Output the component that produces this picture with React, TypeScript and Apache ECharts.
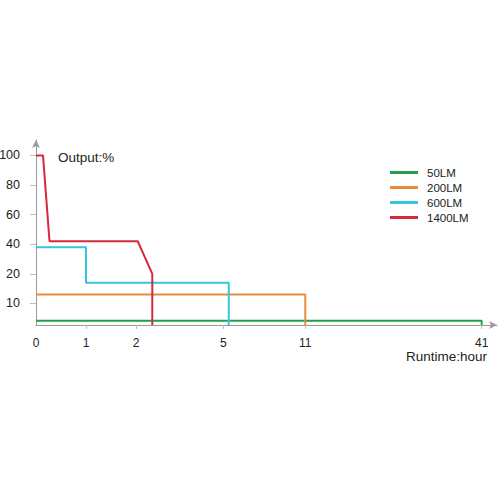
import React, { useEffect, useRef } from "react";
import * as echarts from "echarts";

// Piecewise axis scales (value -> axis position), as drawn in the illustration
const hourTicks = [0, 1, 2, 5, 11, 41];
const hourScale = [0, 1, 2, 3.746, 5.386, 8.914];
const pctTicks = [0, 10, 20, 40, 60, 80, 100];
const pctScale = [0, 0.73, 1.73, 2.73, 3.73, 4.73, 5.73];

const seriesNames = ["50LM", "200LM", "600LM", "1400LM"];
const seriesColors = ["#1fa04a", "#ec8a3c", "#35c5e3", "#d42a3c"];

// [hour, output %]
const lm50 = [[0, 2], [41, 2], [41, 0]];
const lm200 = [[0, 13], [11, 13], [11, 0]];
const lm600 = [[0, 38], [1, 38], [1, 17], [5.4, 17], [5.4, 0]];
const lm1400 = [[0, 100], [0.14, 100], [0.27, 42], [2.06, 42], [2.56, 20], [2.56, 0]];

const interp = (v: number, from: number[], to: number[]) => {
  for (let i = 0; i < from.length - 1; i++) {
    if (v <= from[i + 1]) {
      const t = (v - from[i]) / (from[i + 1] - from[i]);
      return to[i] + t * (to[i + 1] - to[i]);
    }
  }
  return to[to.length - 1];
};

const mapPoint = (p: number[]) => [interp(p[0], hourTicks, hourScale), interp(p[1], pctTicks, pctScale)];

const labelFor = (v: number, pos: number[], ticks: number[]) => {
  for (let i = 0; i < pos.length; i++) if (Math.abs(pos[i] - v) < 1e-6) return String(ticks[i]);
  return "";
};

const FONT = "'Liberation Sans', Arial, sans-serif";

export default function App() {
  const ref = useRef<HTMLDivElement>(null);
  useEffect(() => {
    if (!ref.current) return;
    const chart = echarts.init(ref.current, null, { renderer: "svg" });
    const datasets = [lm50, lm200, lm600, lm1400];
    chart.setOption({
      animation: false,
      backgroundColor: "#ffffff",
      textStyle: { fontFamily: FONT },
      grid: { left: 36, right: 3, top: 140, bottom: 175, containLabel: false, outerBoundsMode: "none" },
      legend: {
        orient: "vertical",
        left: 390,
        top: 166.5,
        icon: "rect",
        itemWidth: 28,
        itemHeight: 3,
        itemGap: 3,
        padding: 0,
        data: seriesNames,
        textStyle: {
          fontSize: 11.5,
          lineHeight: 12,
          color: "#222",
          fontFamily: FONT,
          padding: [0, 0, 0, 4],
        },
      },
      xAxis: {
        type: "value",
        min: 0,
        max: 9.22,
        splitLine: { show: false },
        axisLine: {
          show: true,
          lineStyle: { color: "#999", width: 1 },
          symbol: ["none", "arrow"],
          symbolSize: [6, 8],
        },
        axisTick: {
          show: true,
          length: 4,
          lineStyle: { color: "#bbb" },
          customValues: hourScale.slice(1),
        },
        axisLabel: {
          customValues: hourScale,
          formatter: (v: number) => labelFor(v, hourScale, hourTicks),
          fontSize: 12,
          color: "#222",
          margin: 12,
          fontFamily: FONT,
        },
      },
      yAxis: {
        type: "value",
        min: 0,
        max: 6.25,
        splitLine: { show: false },
        axisLine: {
          show: true,
          lineStyle: { color: "#999", width: 1 },
          symbol: ["none", "arrow"],
          symbolSize: [6, 8],
        },
        axisTick: {
          show: true,
          length: 6,
          lineStyle: { color: "#bbb" },
          customValues: pctScale.slice(1),
        },
        axisLabel: {
          customValues: pctScale.slice(1),
          formatter: (v: number) => labelFor(v, pctScale, pctTicks),
          fontSize: 12.5,
          color: "#222",
          margin: 16,
          fontFamily: FONT,
        },
      },
      graphic: [
        {
          type: "text",
          left: 58,
          top: 150,
          style: { text: "Output:%", fontSize: 13.5, fill: "#222", fontFamily: FONT },
        },
        {
          type: "text",
          right: 13,
          top: 349,
          style: { text: "Runtime:hour", fontSize: 13.5, fill: "#222", fontFamily: FONT },
        },
      ],
      series: datasets.map((d, i) => ({
        name: seriesNames[i],
        type: "line",
        symbol: "none",
        color: seriesColors[i],
        lineStyle: { width: 2, color: seriesColors[i] },
        data: d.map(mapPoint),
      })),
    });
    return () => chart.dispose();
  }, []);
  return <div ref={ref} style={{ position: "absolute", left: 0, top: 0, width: 500, height: 500 }} />;
}
